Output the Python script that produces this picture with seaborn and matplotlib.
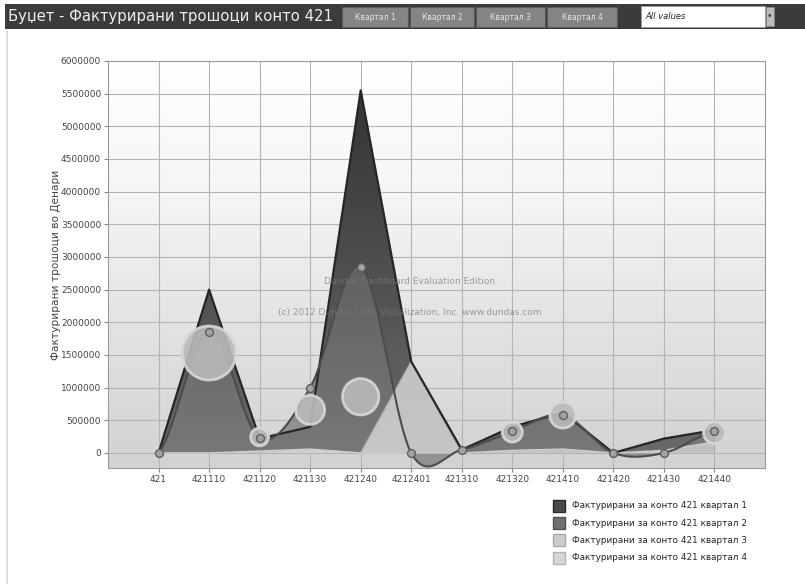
import numpy as np
import matplotlib
matplotlib.use("Agg")
import matplotlib.pyplot as plt
from matplotlib.patches import Rectangle, Polygon, Patch
import seaborn as sns

# ---- data -----------------------------------------------------------------
accounts = ["421", "421110", "421120", "421130", "421240", "4212401",
            "421310", "421320", "421410", "421420", "421430", "421440"]

quarter1 = [0, 2500000, 220000, 400000, 5550000, 1400000,
            50000, 400000, 620000, 0, 220000, 350000]
quarter2 = [0, 1850000, 230000, 1000000, 2850000, 0,
            50000, 330000, 580000, 0, 0, 330000]
quarter3 = [0, 0, 0, 50000, 0, 1400000, 0, 0, 0, 0, 0, 0]
quarter4 = [0, 0, 30000, 60000, 0, 0, 0, 40000, 60000, 0, 40000, 170000]

bubble_accounts = ["421110", "421120", "421130", "421240", "421320", "421410", "421440"]
bubble_values = [1530000, 245000, 660000, 860000, 320000, 580000, 310000]
bubble_volume = [730, 80, 210, 330, 100, 170, 120]

series_names = ["Фактурирани за конто 421 квартал 1",
                "Фактурирани за конто 421 квартал 2",
                "Фактурирани за конто 421 квартал 3",
                "Фактурирани за конто 421 квартал 4"]
title_text = "Буџет - Фактурирани трошоци конто 421"
quarter_buttons = ["Квартал 1", "Квартал 2", "Квартал 3", "Квартал 4"]
filter_text = "All values"
y_label = "Фактурирани трошоци во Денари"
y_ticks = list(range(0, 6000001, 500000))

# ---- figure setup -----------------------------------------------------------
sns.set_style("white")
plt.rcParams["font.family"] = ["DejaVu Sans"]

W, H = 805, 584
fig = plt.figure(figsize=(W / 100, H / 100), dpi=100)
fig.patch.set_facecolor("white")


def fx(x):
    return x / W


def fy(y):
    return 1 - y / H


ax = fig.add_axes([fx(108), fy(468), (765 - 108) / W, (468 - 61) / H])
xpos = np.arange(len(accounts))
YMIN, YMAX = -230000, 6000000
XMIN, XMAX = -1, 12
ax.set_xlim(XMIN, XMAX)
ax.set_ylim(YMIN, YMAX)

# background gradient of the plot area
bg = np.linspace(1.0, 0.0, 256).reshape(-1, 1)
bg_cmap = matplotlib.colors.LinearSegmentedColormap.from_list(
    "bg", ["#d2d2d2", "#e2e2e2", "#f5f5f5", "#ffffff"])
ax.imshow(bg, cmap=bg_cmap, aspect="auto", extent=[XMIN, XMAX, YMIN, YMAX],
          origin="upper", zorder=0, vmin=0, vmax=1)


def catmull_rom(xs, ys, n=40):
    xs = np.asarray(xs, float)
    ys = np.asarray(ys, float)
    px = np.concatenate([[xs[0]], xs, [xs[-1]]])
    py = np.concatenate([[ys[0]], ys, [ys[-1]]])
    out_x, out_y = [], []
    for i in range(1, len(px) - 2):
        t = np.linspace(0, 1, n, endpoint=False)
        m1 = (py[i + 1] - py[i - 1]) / 2
        m2 = (py[i + 2] - py[i]) / 2
        h00 = 2 * t**3 - 3 * t**2 + 1
        h10 = t**3 - 2 * t**2 + t
        h01 = -2 * t**3 + 3 * t**2
        h11 = t**3 - t**2
        out_y.append(h00 * py[i] + h10 * m1 + h01 * py[i + 1] + h11 * m2)
        out_x.append(px[i] + t * (px[i + 1] - px[i]))
    out_x.append([xs[-1]])
    out_y.append([ys[-1]])
    return np.concatenate(out_x), np.concatenate(out_y)


def gradient_area(xs, ys, top, bottom, z, alpha=1.0):
    verts = [(xs[0], 0)] + list(zip(xs, ys)) + [(xs[-1], 0)]
    poly = Polygon(verts, closed=True, facecolor="none", edgecolor="none")
    ax.add_patch(poly)
    cmap = matplotlib.colors.LinearSegmentedColormap.from_list("g", [bottom, top])
    grad = np.linspace(1, 0, 256).reshape(-1, 1)
    im = ax.imshow(grad, cmap=cmap, aspect="auto", extent=[XMIN, XMAX, YMIN, YMAX],
                   origin="upper", zorder=z, alpha=alpha, vmin=0, vmax=1)
    im.set_clip_path(poly)


# quarter 1: straight area, darkest
gradient_area(xpos, quarter1, "#303030", "#6c6c6c", 2)
sns.lineplot(x=xpos, y=quarter1, ax=ax, color="#262626", linewidth=1.6,
             zorder=6, legend=False)

# quarter 2: smoothed area
sx, sy = catmull_rom(xpos, quarter2)
gradient_area(sx, sy, "#525252", "#7e7e7e", 3, alpha=0.75)
ax.plot(sx, sy, color="#4c4c4c", linewidth=1.5, zorder=6)

# quarter 3 and 4: light areas
gradient_area(xpos, quarter3, "#b8b8b8", "#cacaca", 4, alpha=0.97)
sns.lineplot(x=xpos, y=quarter3, ax=ax, color="#b0b0b0", linewidth=1.0,
             zorder=4.5, legend=False)
gradient_area(xpos, quarter4, "#c8c8c8", "#d6d6d6", 4.6, alpha=0.8)
sns.lineplot(x=xpos, y=quarter4, ax=ax, color="#cecece", linewidth=1.0,
             zorder=4.7, legend=False)

# bubbles
bx = [accounts.index(a) for a in bubble_accounts]
sns.scatterplot(x=bx, y=bubble_values, size=bubble_volume, sizes=(2.07 * 80, 2.07 * 730),
                size_norm=(80, 730), ax=ax, color="#bababa", edgecolor="#d8d8d8",
                linewidth=2.0, alpha=0.9, zorder=7, legend=False)

# point markers on quarter 2
sns.scatterplot(x=xpos, y=quarter2, ax=ax, s=32, color="#a2a2a2",
                edgecolor="#5e5e5e", linewidth=1.0, zorder=8, legend=False)

# axes styling
ax.set_xticks(xpos)
ax.set_xticklabels(accounts)
ax.set_yticks(y_ticks)
ax.set_yticklabels([str(v) for v in y_ticks])
ax.set_axisbelow(True)
ax.grid(True, color="#b4b4b4", linewidth=0.8)
ax.tick_params(axis="both", labelsize=6.5, labelcolor="#444444", length=3,
               color="#888888", pad=2, left=True, bottom=True)
for side, sp in ax.spines.items():
    sp.set_color("#9a9a9a")
    sp.set_linewidth(0.8)
    sp.set_zorder(10)
ax.set_ylabel(y_label, fontsize=7.6, color="#444444")
ax.yaxis.set_label_coords((61 - 108) / 657, 0.5)

# evaluation watermark
ax.text((410 - 108) / 657, (468 - 281) / 407, "Dundas Dashboard Evaluation Edition",
        transform=ax.transAxes, ha="center", va="center", fontsize=6.5,
        color="#7a7a7a", alpha=0.7, zorder=9)
ax.text((410 - 108) / 657, (468 - 313) / 407,
        "(c) 2012 Dundas Data Visualization, Inc. www.dundas.com",
        transform=ax.transAxes, ha="center", va="center", fontsize=6.5,
        color="#7a7a7a", alpha=0.7, zorder=9)

# legend
handles = [Patch(facecolor=c, edgecolor=e) for c, e in
           [("#4a4a4a", "#2a2a2a"), ("#707070", "#505050"),
            ("#cccccc", "#aaaaaa"), ("#d6d6d6", "#b4b4b4")]]
fig.legend(handles, series_names, loc="upper left", bbox_to_anchor=(fx(549), fy(496)),
           frameon=False, fontsize=6.4, handlelength=1.4, handleheight=1.7,
           labelspacing=0.6, handletextpad=0.8, borderaxespad=0)

# header bar
fig.add_artist(Rectangle((fx(5), fy(29)), fx(800), 25 / H, transform=fig.transFigure,
                         facecolor="#3b3b3b", edgecolor="none"))
fig.text(fx(8), fy(17), title_text, ha="left", va="center", fontsize=10.7,
         color="#eeeeee")
button_x = [(342, 408), (410, 474), (476, 545), (547, 617)]
for (x0, x1), label in zip(button_x, quarter_buttons):
    fig.add_artist(Rectangle((fx(x0), fy(27)), fx(x1 - x0), 20 / H,
                             transform=fig.transFigure, facecolor="#858585",
                             edgecolor="#5a5a5a", linewidth=0.8))
    fig.text(fx((x0 + x1) / 2), fy(17), label, ha="center", va="center",
             fontsize=5.5, color="#e4e4e4")
fig.add_artist(Rectangle((fx(641), fy(27)), fx(124), 21 / H, transform=fig.transFigure,
                         facecolor="white", edgecolor="#999999", linewidth=0.6))
fig.text(fx(645), fy(16.5), filter_text, ha="left", va="center", fontsize=6,
         style="italic", color="#222222")
fig.add_artist(Rectangle((fx(766), fy(26)), fx(8), 19 / H, transform=fig.transFigure,
                         facecolor="#bdbdbd", edgecolor="#888888", linewidth=0.5))
fig.text(fx(770), fy(16.5), "▾", ha="center", va="center", fontsize=5, color="#333333")

# left page border
fig.add_artist(Rectangle((fx(6), 0), fx(2), fy(31), transform=fig.transFigure,
                         facecolor="#dddddd", edgecolor="none"))

fig.savefig("out.png", dpi=100)
